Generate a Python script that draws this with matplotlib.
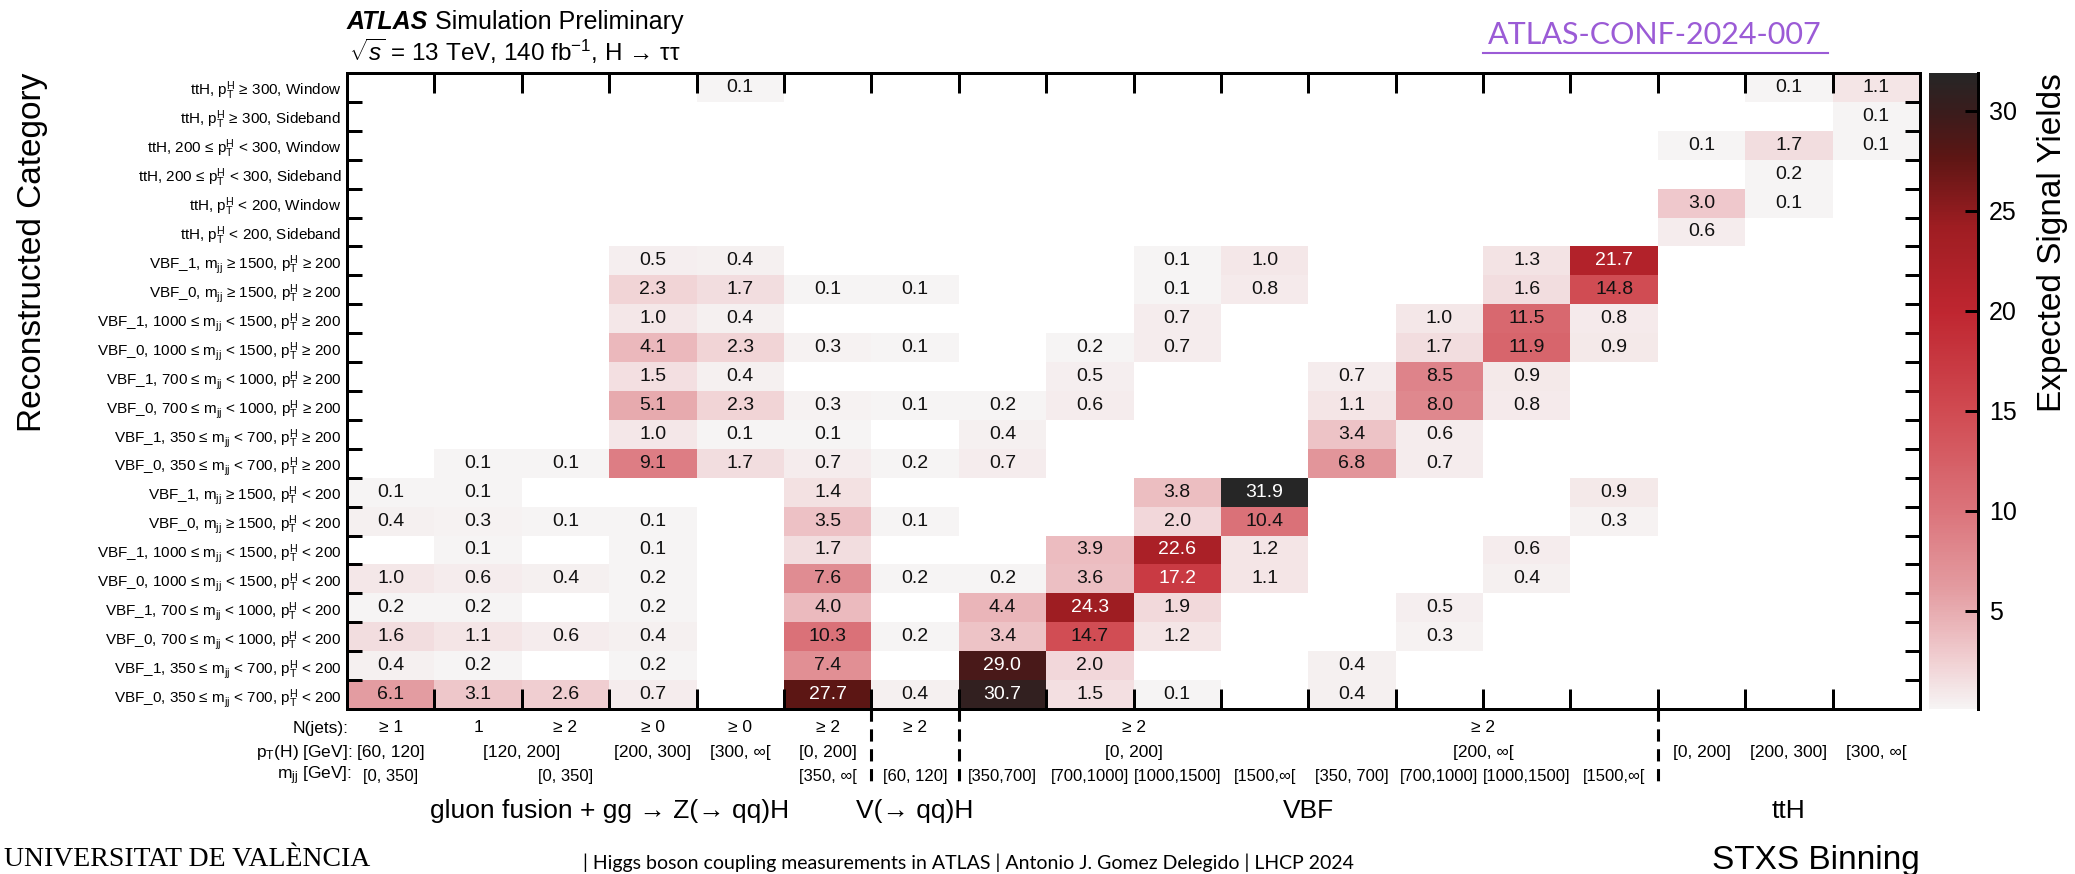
import numpy as np
import matplotlib
matplotlib.use("Agg")
import matplotlib.pyplot as plt
from matplotlib.colors import LinearSegmentedColormap
from matplotlib.transforms import blended_transform_factory
from matplotlib.lines import Line2D

plt.rcParams['font.family'] = ['Liberation Sans', 'DejaVu Sans']
plt.rcParams['mathtext.fontset'] = 'custom'
plt.rcParams['mathtext.rm'] = 'Liberation Sans'
plt.rcParams['mathtext.it'] = 'Liberation Sans:italic'
plt.rcParams['mathtext.bf'] = 'Liberation Sans:bold'

PT = r"$\mathregular{p_T^H}$"
MJJ = r"$\mathregular{m_{jj}}$"

# reconstructed categories, top to bottom
categories = [
    f"ttH, {PT} ≥ 300, Window",
    f"ttH, {PT} ≥ 300, Sideband",
    f"ttH, 200 ≤ {PT} < 300, Window",
    f"ttH, 200 ≤ {PT} < 300, Sideband",
    f"ttH, {PT} < 200, Window",
    f"ttH, {PT} < 200, Sideband",
    f"VBF_1, {MJJ} ≥ 1500, {PT} ≥ 200",
    f"VBF_0, {MJJ} ≥ 1500, {PT} ≥ 200",
    f"VBF_1, 1000 ≤ {MJJ} < 1500, {PT} ≥ 200",
    f"VBF_0, 1000 ≤ {MJJ} < 1500, {PT} ≥ 200",
    f"VBF_1, 700 ≤ {MJJ} < 1000, {PT} ≥ 200",
    f"VBF_0, 700 ≤ {MJJ} < 1000, {PT} ≥ 200",
    f"VBF_1, 350 ≤ {MJJ} < 700, {PT} ≥ 200",
    f"VBF_0, 350 ≤ {MJJ} < 700, {PT} ≥ 200",
    f"VBF_1, {MJJ} ≥ 1500, {PT} < 200",
    f"VBF_0, {MJJ} ≥ 1500, {PT} < 200",
    f"VBF_1, 1000 ≤ {MJJ} < 1500, {PT} < 200",
    f"VBF_0, 1000 ≤ {MJJ} < 1500, {PT} < 200",
    f"VBF_1, 700 ≤ {MJJ} < 1000, {PT} < 200",
    f"VBF_0, 700 ≤ {MJJ} < 1000, {PT} < 200",
    f"VBF_1, 350 ≤ {MJJ} < 700, {PT} < 200",
    f"VBF_0, 350 ≤ {MJJ} < 700, {PT} < 200",
]

# expected signal yields, one row per category, 18 STXS bins (0 = empty)
yields = [
    [0, 0, 0, 0, 0.1, 0, 0, 0, 0, 0, 0, 0, 0, 0, 0, 0, 0.1, 1.1],
    [0, 0, 0, 0, 0, 0, 0, 0, 0, 0, 0, 0, 0, 0, 0, 0, 0, 0.1],
    [0, 0, 0, 0, 0, 0, 0, 0, 0, 0, 0, 0, 0, 0, 0, 0.1, 1.7, 0.1],
    [0, 0, 0, 0, 0, 0, 0, 0, 0, 0, 0, 0, 0, 0, 0, 0, 0.2, 0],
    [0, 0, 0, 0, 0, 0, 0, 0, 0, 0, 0, 0, 0, 0, 0, 3.0, 0.1, 0],
    [0, 0, 0, 0, 0, 0, 0, 0, 0, 0, 0, 0, 0, 0, 0, 0.6, 0, 0],
    [0, 0, 0, 0.5, 0.4, 0, 0, 0, 0, 0.1, 1.0, 0, 0, 1.3, 21.7, 0, 0, 0],
    [0, 0, 0, 2.3, 1.7, 0.1, 0.1, 0, 0, 0.1, 0.8, 0, 0, 1.6, 14.8, 0, 0, 0],
    [0, 0, 0, 1.0, 0.4, 0, 0, 0, 0, 0.7, 0, 0, 1.0, 11.5, 0.8, 0, 0, 0],
    [0, 0, 0, 4.1, 2.3, 0.3, 0.1, 0, 0.2, 0.7, 0, 0, 1.7, 11.9, 0.9, 0, 0, 0],
    [0, 0, 0, 1.5, 0.4, 0, 0, 0, 0.5, 0, 0, 0.7, 8.5, 0.9, 0, 0, 0, 0],
    [0, 0, 0, 5.1, 2.3, 0.3, 0.1, 0.2, 0.6, 0, 0, 1.1, 8.0, 0.8, 0, 0, 0, 0],
    [0, 0, 0, 1.0, 0.1, 0.1, 0, 0.4, 0, 0, 0, 3.4, 0.6, 0, 0, 0, 0, 0],
    [0, 0.1, 0.1, 9.1, 1.7, 0.7, 0.2, 0.7, 0, 0, 0, 6.8, 0.7, 0, 0, 0, 0, 0],
    [0.1, 0.1, 0, 0, 0, 1.4, 0, 0, 0, 3.8, 31.9, 0, 0, 0, 0.9, 0, 0, 0],
    [0.4, 0.3, 0.1, 0.1, 0, 3.5, 0.1, 0, 0, 2.0, 10.4, 0, 0, 0, 0.3, 0, 0, 0],
    [0, 0.1, 0, 0.1, 0, 1.7, 0, 0, 3.9, 22.6, 1.2, 0, 0, 0.6, 0, 0, 0, 0],
    [1.0, 0.6, 0.4, 0.2, 0, 7.6, 0.2, 0.2, 3.6, 17.2, 1.1, 0, 0, 0.4, 0, 0, 0, 0],
    [0.2, 0.2, 0, 0.2, 0, 4.0, 0, 4.4, 24.3, 1.9, 0, 0, 0.5, 0, 0, 0, 0, 0],
    [1.6, 1.1, 0.6, 0.4, 0, 10.3, 0.2, 3.4, 14.7, 1.2, 0, 0, 0.3, 0, 0, 0, 0, 0],
    [0.4, 0.2, 0, 0.2, 0, 7.4, 0, 29.0, 2.0, 0, 0, 0.4, 0, 0, 0, 0, 0, 0],
    [6.1, 3.1, 2.6, 0.7, 0, 27.7, 0.4, 30.7, 1.5, 0.1, 0, 0.4, 0, 0, 0, 0, 0, 0],
]

# STXS bin labels under the x axis: (text, column centre)
njets_labels = [("≥ 1", 0.5), ("1", 1.5), ("≥ 2", 2.5), ("≥ 0", 3.5), ("≥ 0", 4.5),
                ("≥ 2", 5.5), ("≥ 2", 6.5), ("≥ 2", 9.0), ("≥ 2", 13.0)]
pth_labels = [("[60, 120]", 0.5), ("[120, 200]", 2.0), ("[200, 300]", 3.5), ("[300, ∞[", 4.5),
              ("[0, 200]", 5.5), ("[0, 200]", 9.0), ("[200, ∞[", 13.0),
              ("[0, 200]", 15.5), ("[200, 300]", 16.5), ("[300, ∞[", 17.5)]
mjj_labels = [("[0, 350]", 0.5), ("[0, 350]", 2.5), ("[350, ∞[", 5.5), ("[60, 120]", 6.5),
              ("[350,700]", 7.5), ("[700,1000]", 8.5), ("[1000,1500]", 9.5), ("[1500,∞[", 10.5),
              ("[350, 700]", 11.5), ("[700,1000]", 12.5), ("[1000,1500]", 13.5), ("[1500,∞[", 14.5)]
groups = [("gluon fusion + gg → Z(→ qq)H", 0, 6), ("V(→ qq)H", 6, 7), ("VBF", 7, 15), ("ttH", 15, 18)]
cbar_ticks = [5, 10, 15, 20, 25, 30]

W, H = 2075, 874
def fx(x):
    return x / W
def fy(y):
    return 1 - y / H

cmap = LinearSegmentedColormap.from_list("atlasred", [
    (0.0, "#f6f4f4"), (0.08, "#f0cdd0"), (0.19, "#e39ba0"), (0.31, "#db747b"),
    (0.47, "#d04a51"), (0.625, "#bf2630"), (0.76, "#9e1d22"), (0.87, "#5c1614"),
    (0.94, "#3a1c1c"), (1.0, "#262626")])
cmap.set_bad("white")

z = np.array(yields)
zm = np.ma.masked_where(z <= 0, z)
nrow, ncol = z.shape

fig = plt.figure(figsize=(W / 100, H / 100), dpi=100)
ax = fig.add_axes([fx(347), fy(709), (1920 - 347) / W, (709 - 73) / H])
mesh = ax.pcolormesh(np.arange(ncol + 1), np.arange(nrow + 1), zm, cmap=cmap,
                     vmin=0.1, vmax=31.9, antialiased=False, linewidth=0)
ax.set_xlim(0, ncol)
ax.set_ylim(nrow, 0)

for i in range(nrow):
    for j in range(ncol):
        v = z[i, j]
        if v > 0:
            ax.text(j + 0.5, i + 0.5, f"{v:.1f}", ha="center", va="center", fontsize=14,
                    color="white" if v >= 16 else "#111111")

lw = 3 * 0.72
for s in ax.spines.values():
    s.set_linewidth(lw)
ax.set_xticks(np.arange(1, ncol))
ax.set_xticklabels([])
ax.tick_params(axis="x", which="major", direction="in", length=20 * 0.72, width=lw,
               top=True, bottom=True, labelbottom=False)
ax.set_yticks(np.arange(1, nrow))
ax.set_yticklabels([])
ax.tick_params(axis="y", which="major", direction="in", length=15 * 0.72, width=lw,
               left=True, right=True)
ax.set_yticks(np.arange(nrow) + 0.5, labels=categories, minor=True)
ax.tick_params(axis="y", which="minor", length=0, pad=4, labelsize=11)

# bin labels below the axis
tr = blended_transform_factory(ax.transData, fig.transFigure)
fig.text(fx(349), fy(728), "N(jets):", ha="right", va="center", fontsize=12.5)
fig.text(fx(352), fy(752), r"$\mathregular{p_T}$(H) [GeV]:", ha="right", va="center", fontsize=12.5)
fig.text(fx(352), fy(776), r"$\mathregular{m_{jj}}$ [GeV]:", ha="right", va="center", fontsize=12.5)
for txt, xc in njets_labels:
    ax.text(xc, fy(728), txt, transform=tr, ha="center", va="center", fontsize=12.5)
for txt, xc in pth_labels:
    ax.text(xc, fy(752), txt, transform=tr, ha="center", va="center", fontsize=12.5)
for txt, xc in mjj_labels:
    ax.text(xc, fy(776), txt, transform=tr, ha="center", va="center", fontsize=12)
for txt, a, b in groups:
    ax.text((a + b) / 2, fy(811), txt, transform=tr, ha="center", va="center", fontsize=19)

trd = blended_transform_factory(ax.transData, ax.transAxes)
for xb in [6, 7, 15]:
    ax.plot([xb, xb], [0, -(785 - 709) / (709 - 73)], transform=trd, clip_on=False,
            color="black", lw=2.2, ls=(0, (4, 2.5)))

# colour bar
cax = fig.add_axes([fx(1929), fy(709), 49 / W, (709 - 73) / H])
cb = fig.colorbar(mesh, cax=cax, ticks=cbar_ticks)
cb.outline.set_visible(False)
cax.tick_params(direction="in", length=13 * 0.72, width=lw, labelsize=18, pad=8)
cax.plot([1, 1], [0, 1], transform=cax.transAxes, color="black", lw=lw, clip_on=False)

# titles
fig.text(fx(2053), fy(73), "Expected Signal Yields", rotation=90, ha="center", va="top", fontsize=24)
fig.text(fx(33), fy(73), "Reconstructed Category", rotation=90, ha="center", va="top", fontsize=24)
t1 = fig.text(fx(347), fy(34), "ATLAS", fontsize=18, fontweight="bold", style="italic", va="bottom")
ax.annotate(" Simulation Preliminary", xy=(1, 0), xycoords=t1, fontsize=18, va="bottom", ha="left")
fig.text(fx(349), fy(66), r"$\sqrt{s}$ = 13 TeV, 140 fb$^{-1}$, H → ττ", fontsize=17.5, va="bottom")
fig.text(fx(1920), fy(860), "STXS Binning", ha="right", va="center", fontsize=24)

fig.text(fx(1655), fy(44), "ATLAS-CONF-2024-007", ha="center", va="baseline",
         fontsize=22, color="#9b5bd6", family="Lato")
fig.add_artist(Line2D([fx(1483), fx(1828)], [fy(53), fy(53)], color="#9b5bd6", lw=1.5))

# slide footer
fig.text(fx(4), fy(872), "UNIVERSITAT DE VALÈNCIA", ha="left", va="bottom", fontsize=20,
         family="Liberation Serif")
fig.text(fx(583), fy(872), "| Higgs boson coupling measurements in ATLAS | Antonio J. Gomez Delegido | LHCP 2024",
         ha="left", va="bottom", fontsize=14, family="Lato")

fig.savefig("out.png", dpi=100)
